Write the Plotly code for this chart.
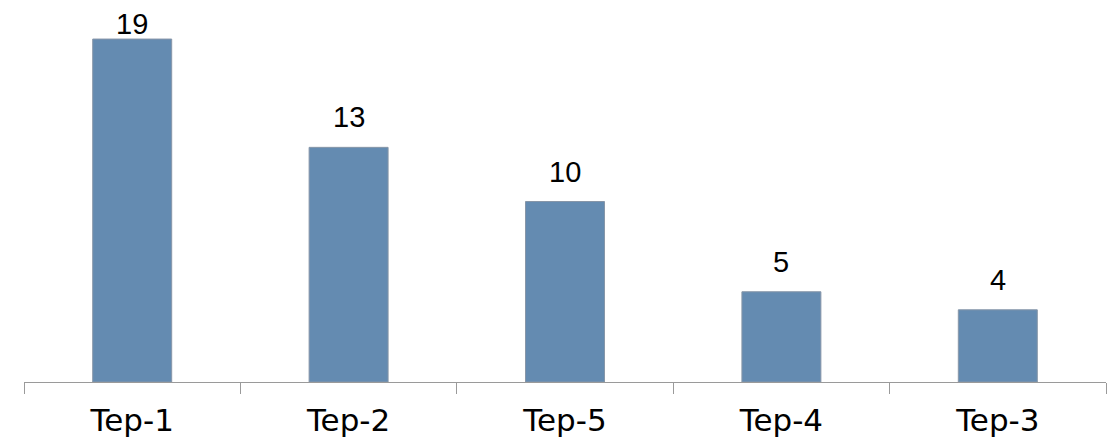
import plotly.graph_objects as go

categories = ["Tep-1", "Tep-2", "Tep-5", "Tep-4", "Tep-3"]
values = [19, 13, 10, 5, 4]

Y_MAX = 20.72
PLOT_H = 374

fig = go.Figure(
    go.Bar(
        x=categories,
        y=values,
        marker=dict(color="#648BB1", line=dict(color="#8796a8", width=1)),
        cliponaxis=False,
    )
)

px_per_unit = PLOT_H / Y_MAX
for c, v in zip(categories, values):
    avail = (Y_MAX - v) * px_per_unit
    shift = min(12, avail - 34)
    fig.add_annotation(
        x=c, y=v, text=str(v), showarrow=False,
        yanchor="bottom", xanchor="center", yshift=shift,
        font=dict(family="Liberation Sans", size=29, color="#000000"),
    )

fig.update_layout(
    width=1109,
    height=430,
    margin=dict(l=16, r=11, t=0, b=56, autoexpand=False),
    paper_bgcolor="white",
    plot_bgcolor="white",
    bargap=0.635,
    showlegend=False,
    xaxis=dict(
        showline=True,
        linecolor="#9a9a9a",
        linewidth=1,
        ticks="outside",
        tickson="boundaries",
        ticklen=11,
        tickcolor="#9a9a9a",
        tickwidth=1,
        showgrid=False,
        automargin=False,
        tickfont=dict(family="DejaVu Sans", size=31, color="#000000"),
        ticklabelstandoff=11,
    ),
    yaxis=dict(
        range=[0, Y_MAX],
        visible=False,
        showgrid=False,
        zeroline=False,
        automargin=False,
    ),
)

fig.write_html("out.html")
